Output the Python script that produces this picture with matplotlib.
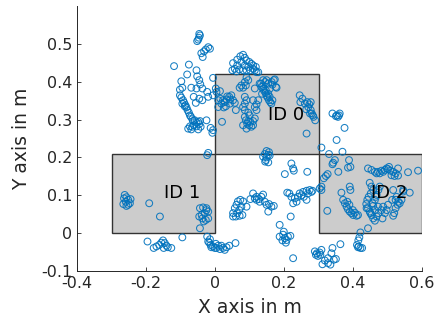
import matplotlib.pyplot as plt
import matplotlib.patches as patches

# measured positions (m)
x_m = [
    -0.046, -0.044, -0.047, -0.049, -0.052,
    -0.020, -0.027, -0.032, -0.015, -0.036, -0.040,
    -0.119, -0.076, -0.081, -0.054, -0.052, -0.046,
    -0.098, -0.095, -0.102, -0.043, -0.037, -0.069, -0.054,
    -0.006, -0.023, -0.020, -0.006, 0.004,
    -0.046, -0.037, -0.062, -0.056,
    -0.102, -0.098, -0.093, -0.090, -0.086, -0.083, -0.080, -0.076, -0.073, -0.070,
    -0.066, -0.064, -0.059, -0.054, -0.049, -0.044, -0.046, -0.054, -0.061, -0.066,
    -0.073, -0.078, -0.069, -0.049, -0.042, -0.088, -0.095,
    -0.025, -0.013, -0.006, -0.008, -0.020, -0.023,
    0.052, 0.064, 0.073, 0.081, 0.086, 0.091, 0.076, 0.099, 0.105, 0.110, 0.115, 0.120,
    0.102, 0.091, 0.081, 0.070, 0.062, 0.057, 0.050, 0.064, 0.086, 0.096, 0.110, 0.125, 0.118,
    0.091, 0.086, 0.096, 0.076, 0.081, 0.071, 0.089,
    0.002, 0.009, 0.015, 0.023, 0.028, 0.033, 0.041, 0.044, 0.052, 0.057, 0.060, 0.043,
    0.031, 0.018, 0.009, 0.014, 0.047, 0.035, 0.020, 0.025,
    0.086, 0.091, 0.086, 0.081, 0.086, 0.096, 0.100, 0.086, 0.089, 0.093, 0.099, 0.105,
    0.110, 0.102, 0.096, 0.081, 0.091, 0.110, 0.115, 0.120, 0.115, 0.120, 0.125, 0.115, 0.110,
    0.129, 0.134, 0.139, 0.142, 0.146, 0.149, 0.152, 0.156, 0.160, 0.163, 0.166, 0.158,
    0.154, 0.147, 0.139, 0.133, 0.145, 0.154, 0.164, 0.170, 0.173, 0.166, 0.176, 0.178,
    0.158, 0.136, 0.149, 0.139,
    0.245, 0.253, 0.267, 0.273, 0.270, 0.277, 0.280, 0.285, 0.290, 0.283, 0.275, 0.264,
    0.265, 0.247, 0.260, 0.277,
    0.149, 0.156, 0.144, 0.154, 0.139, 0.149, 0.158, 0.147, 0.154, 0.145,
    0.340, 0.353, 0.361, 0.356, 0.350, 0.359, 0.375, 0.352, 0.369, 0.308, 0.330,
    0.342, 0.347, 0.340, 0.388, 0.392, 0.385, 0.357, 0.326, 0.321, 0.315, 0.308, 0.308, 0.303,
    0.443, 0.453, 0.463, 0.472, 0.482, 0.492, 0.501, 0.508, 0.516, 0.523, 0.530, 0.504,
    0.497, 0.487, 0.477, 0.468, 0.511, 0.520, 0.559, 0.588, 0.530,
    0.390, 0.392, 0.366, 0.371, 0.376, 0.381, 0.385, 0.390, 0.395, 0.400, 0.410, 0.414,
    0.405, 0.383, 0.325, 0.399, 0.389,
    0.448, 0.453, 0.458, 0.451, 0.445, 0.441, 0.438, 0.443, 0.448, 0.453, 0.458, 0.463,
    0.468, 0.473, 0.463, 0.458, 0.463, 0.468, 0.473, 0.466, 0.456, 0.472, 0.482, 0.487,
    0.492, 0.485, 0.497, 0.501, 0.450, 0.477, 0.439,
    0.516, 0.526, 0.531, 0.529, 0.523, 0.519, 0.516, 0.535, 0.540, 0.545, 0.513, 0.523,
    0.564, 0.545,
    0.421, 0.418, 0.415, 0.443, 0.411, 0.416, 0.421, 0.414, 0.426, 0.363,
    0.289, 0.295, 0.303, 0.298, 0.292, 0.305, 0.308,
    0.311, 0.327, 0.318, 0.334, 0.344, 0.350, 0.340, 0.337, 0.327,
    0.245, 0.250, 0.255, 0.265, 0.274, 0.279, 0.257, 0.240, 0.231, 0.226, 0.236, 0.221,
    0.269, 0.282, 0.265, 0.215, 0.209,
    0.221, 0.226, 0.228, 0.267, 0.202, 0.187, 0.219,
    0.187, 0.197, 0.202, 0.207, 0.211, 0.205, 0.195, 0.218, 0.199, 0.226,
    0.052, 0.057, 0.062, 0.066, 0.073, 0.081, 0.076, 0.070, 0.064, 0.071, 0.079, 0.060,
    0.091, 0.052,
    0.110, 0.120, 0.127, 0.134, 0.139, 0.129, 0.144, 0.149, 0.156, 0.163, 0.170, 0.154,
    0.120, 0.115, 0.102, 0.059,
    -0.262, -0.257, -0.252, -0.247, -0.259, -0.264, -0.252, -0.245, -0.257, -0.266,
    -0.191, -0.160,
    -0.044, -0.035, -0.025, -0.020, -0.030, -0.039, -0.046, -0.037, -0.027, -0.020,
    -0.033, -0.025, -0.044, -0.095,
    -0.196, -0.178, -0.170, -0.162, -0.156, -0.151, -0.146, -0.137, -0.127, -0.149, -0.141,
    -0.023, -0.015, -0.020, -0.013, -0.006, 0.004, 0.014, 0.023, 0.033, 0.041, 0.018,
    0.009, -0.001, -0.011, 0.028, 0.002, -0.017,
]
y_m = [
    0.526, 0.522, 0.516, 0.511, 0.507,
    0.491, 0.485, 0.480, 0.487, 0.465, 0.475,
    0.441, 0.445, 0.419, 0.430, 0.414, 0.404,
    0.401, 0.384, 0.379, 0.393, 0.382, 0.384, 0.382,
    0.410, 0.373, 0.360, 0.364, 0.373,
    0.355, 0.351, 0.360, 0.344,
    0.364, 0.358, 0.351, 0.345, 0.338, 0.332, 0.325, 0.318, 0.311, 0.307,
    0.301, 0.296, 0.298, 0.292, 0.294, 0.296, 0.288, 0.282, 0.285, 0.281,
    0.282, 0.276, 0.274, 0.274, 0.281, 0.335, 0.342,
    0.298, 0.278, 0.272, 0.265, 0.212, 0.206,
    0.449, 0.458, 0.467, 0.471, 0.463, 0.456, 0.452, 0.452, 0.447, 0.443, 0.430, 0.425,
    0.430, 0.430, 0.430, 0.432, 0.427, 0.434, 0.430, 0.443, 0.443, 0.439, 0.434, 0.425, 0.439,
    0.411, 0.399, 0.404, 0.390, 0.384, 0.384, 0.390,
    0.382, 0.351, 0.355, 0.351, 0.346, 0.353, 0.360, 0.353, 0.351, 0.344, 0.325, 0.342,
    0.335, 0.342, 0.333, 0.375, 0.364, 0.361, 0.294, 0.332,
    0.360, 0.351, 0.342, 0.333, 0.325, 0.318, 0.311, 0.307, 0.298, 0.289, 0.285, 0.281,
    0.285, 0.294, 0.296, 0.285, 0.276, 0.296, 0.303, 0.325, 0.333, 0.340, 0.351, 0.382, 0.351,
    0.395, 0.386, 0.381, 0.376, 0.370, 0.363, 0.358, 0.351, 0.346, 0.342, 0.351, 0.360,
    0.368, 0.377, 0.388, 0.395, 0.399, 0.395, 0.399, 0.404, 0.406, 0.392, 0.386, 0.384,
    0.381, 0.368, 0.404, 0.404,
    0.364, 0.355, 0.346, 0.340, 0.333, 0.325, 0.316, 0.307, 0.298, 0.311, 0.316, 0.327,
    0.263, 0.346, 0.342, 0.346,
    0.217, 0.214, 0.209, 0.207, 0.202, 0.200, 0.205, 0.193, 0.187, 0.189,
    0.316, 0.311, 0.316, 0.307, 0.309, 0.311, 0.278, 0.246, 0.215, 0.226, 0.209,
    0.186, 0.193, 0.182, 0.193, 0.175, 0.173, 0.162, 0.156, 0.151, 0.145, 0.123, 0.114, 0.118,
    0.171, 0.167, 0.162, 0.162, 0.165, 0.167, 0.169, 0.165, 0.162, 0.158, 0.152, 0.175,
    0.171, 0.162, 0.158, 0.158, 0.153, 0.151, 0.161, 0.165, 0.171,
    0.123, 0.114, 0.107, 0.088, 0.079, 0.070, 0.063, 0.057, 0.053, 0.048, 0.046, 0.048,
    0.054, 0.083, 0.059, 0.061, 0.075,
    0.133, 0.123, 0.114, 0.105, 0.096, 0.088, 0.077, 0.066, 0.057, 0.048, 0.039, 0.033,
    0.044, 0.053, 0.061, 0.072, 0.088, 0.101, 0.114, 0.096, 0.079, 0.070, 0.061, 0.070,
    0.053, 0.039, 0.061, 0.075, 0.053, 0.123, 0.066,
    0.114, 0.096, 0.083, 0.075, 0.066, 0.053, 0.046, 0.079, 0.088, 0.110, 0.088, 0.088,
    0.107, 0.114,
    0.002, -0.011, -0.019, 0.013, -0.031, -0.035, -0.039, -0.037, -0.039, -0.029,
    -0.048, -0.053, -0.051, -0.060, -0.057, -0.057, -0.044,
    -0.082, -0.079, -0.072, -0.083, -0.070, -0.068, -0.039, -0.053, -0.066,
    0.105, 0.100, 0.109, 0.112, 0.114, 0.109, 0.096, 0.096, 0.092, 0.079, 0.083, 0.096,
    0.105, 0.112, 0.088, 0.105, 0.107,
    0.184, 0.171, 0.165, 0.162, 0.156, 0.022, 0.044,
    -0.009, -0.004, -0.013, -0.018, -0.009, -0.025, -0.019, -0.007, 0.004, -0.066,
    0.053, 0.066, 0.075, 0.084, 0.088, 0.084, 0.070, 0.061, 0.053, 0.046, 0.048, 0.044,
    0.070, 0.044,
    0.105, 0.096, 0.090, 0.096, 0.102, 0.083, 0.083, 0.075, 0.077, 0.070, 0.072, 0.057,
    0.088, 0.092, 0.090, -0.026,
    0.101, 0.095, 0.088, 0.079, 0.083, 0.092, 0.075, 0.090, 0.072, 0.077,
    0.079, 0.044,
    0.066, 0.068, 0.066, 0.057, 0.053, 0.048, 0.044, 0.039, 0.035, 0.039,
    0.031, 0.061, 0.013, -0.011,
    -0.022, -0.039, -0.035, -0.031, -0.025, -0.019, -0.026, -0.037, -0.039, -0.039, -0.033,
    -0.009, -0.016, -0.022, -0.031, -0.035, -0.039, -0.042, -0.039, -0.037, -0.033, -0.033,
    -0.033, -0.039, -0.037, -0.044, -0.028, -0.025,
]

# areas: (x0, y0, width, height, label, label x, label y)
areas = [
    (0.0, 0.21, 0.3, 0.21, 'ID 0', 0.207, 0.313),
    (-0.3, 0.0, 0.3, 0.21, 'ID 1', -0.096, 0.105),
    (0.3, 0.0, 0.3, 0.21, 'ID 2', 0.505, 0.105),
]

plt.rcParams['font.family'] = 'DejaVu Sans'
dark = (0.15, 0.15, 0.15)

fig = plt.figure(figsize=(4.43, 3.27), dpi=100)
ax = fig.add_axes([0.174, 0.171, 0.779, 0.811])

for x0, y0, w, h, lab, lx, ly in areas:
    ax.add_patch(patches.Rectangle((x0, y0), w, h, facecolor=(0.8, 0.8, 0.8),
                                   edgecolor=(0.2, 0.2, 0.2), linewidth=1.0, zorder=1))

ax.scatter(x_m, y_m, s=24, facecolors='none', edgecolors='#0072BD',
           linewidths=0.75, alpha=0.9, zorder=2)

for x0, y0, w, h, lab, lx, ly in areas:
    ax.text(lx, ly, lab, ha='center', va='center', fontsize=13, color='black', zorder=3)

ax.set_xlim(-0.4, 0.6)
ax.set_ylim(-0.1, 0.6)
ax.set_xticks([-0.4, -0.2, 0, 0.2, 0.4, 0.6])
ax.set_xticklabels(['-0.4', '-0.2', '0', '0.2', '0.4', '0.6'])
ax.set_yticks([-0.1, 0, 0.1, 0.2, 0.3, 0.4, 0.5])
ax.set_yticklabels(['-0.1', '0', '0.1', '0.2', '0.3', '0.4', '0.5'])
ax.tick_params(direction='in', length=3, width=0.6, colors=dark, labelsize=11.5)
ax.spines['top'].set_visible(False)
ax.spines['right'].set_visible(False)
for s in ['left', 'bottom']:
    ax.spines[s].set_color(dark)
    ax.spines[s].set_linewidth(0.7)

ax.set_xlabel('X axis in m', fontsize=13.5, color=dark, labelpad=5)
ax.set_ylabel('Y axis in m', fontsize=13.5, color=dark, labelpad=7)

fig.savefig('out.png', dpi=100)
